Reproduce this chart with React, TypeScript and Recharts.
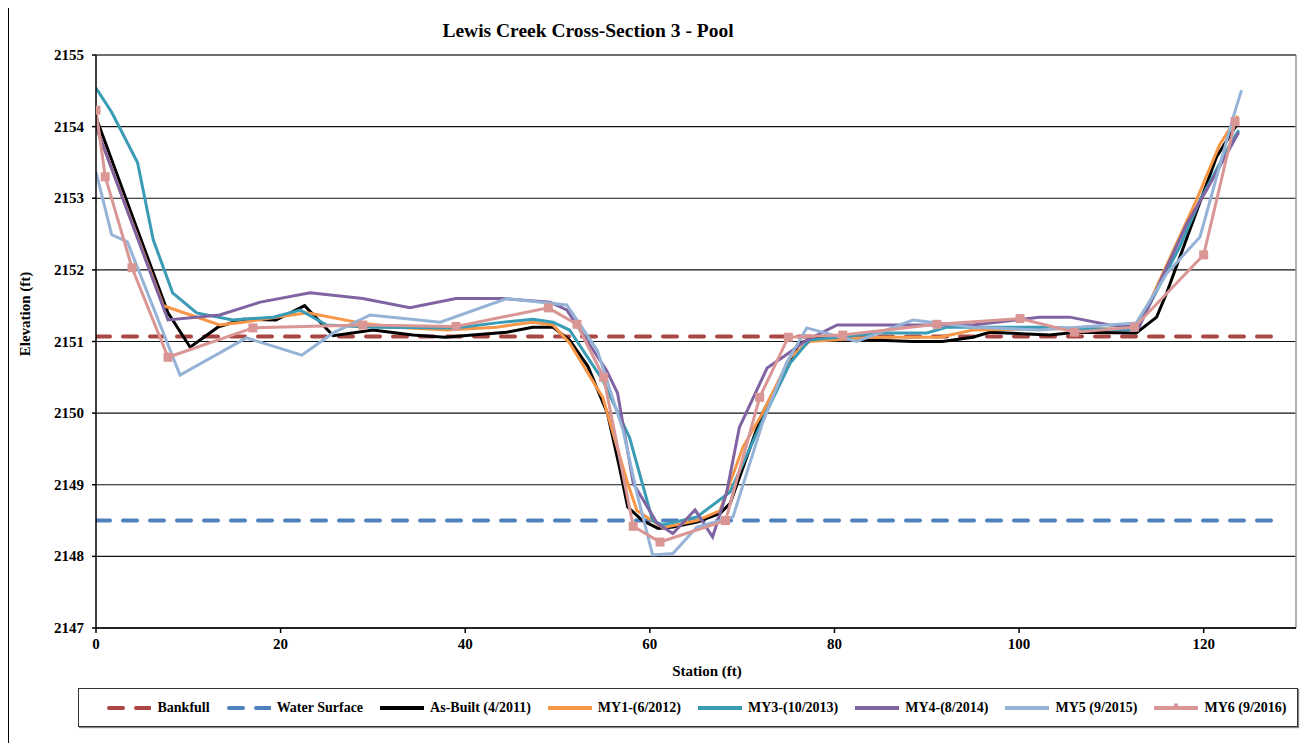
import React from 'react';
import { LineChart, Line, XAxis, YAxis, CartesianGrid, ReferenceLine } from 'recharts';

const xTicks = [0, 20, 40, 60, 80, 100, 120];
const yTicks = [2147, 2148, 2149, 2150, 2151, 2152, 2153, 2154, 2155];

const bankfullSta = [0, 128.2];
const bankfullElev = [2151.07, 2151.07];
const waterSta = [0, 128.4];
const waterElev = [2148.5, 2148.5];

const asBuiltSta = [0, 7.8, 10.2, 13.2, 15.9, 19.5, 22.6, 25.7, 30, 34.3, 37.8, 40.8, 44.5, 47.3, 49.5, 51.3, 53.3, 55.4, 56.7, 57.6, 59.2, 60.9, 62.5, 65.1, 67.6, 68.7, 72.2, 75.2, 76.2, 78.1, 88.5, 91.7, 95, 96.8, 103.3, 106.2, 112.7, 114.9, 116, 121.4, 123.7];
const asBuiltElev = [2154.13, 2151.4, 2150.92, 2151.2, 2151.31, 2151.3, 2151.5, 2151.08, 2151.16, 2151.09, 2151.06, 2151.09, 2151.13, 2151.2, 2151.2, 2151.02, 2150.65, 2150.0, 2149.25, 2148.69, 2148.5, 2148.39, 2148.41, 2148.48, 2148.6, 2148.74, 2150.0, 2150.74, 2150.98, 2151.05, 2151.0, 2151.0, 2151.06, 2151.13, 2151.09, 2151.13, 2151.12, 2151.34, 2151.68, 2153.58, 2154.05];

const my1Sta = [0, 7.3, 13.4, 15.9, 22.9, 28.6, 32.6, 38, 43.4, 47.3, 49.5, 51.3, 54.9, 57.5, 58.6, 61.4, 65.1, 67.6, 70.1, 72.2, 75.2, 77.3, 84.2, 91.4, 95, 103, 112.8, 119.2, 121.7, 123.7];
const my1Elev = [2154.0, 2151.5, 2151.23, 2151.27, 2151.4, 2151.26, 2151.2, 2151.16, 2151.2, 2151.27, 2151.23, 2150.98, 2150.22, 2149.06, 2148.64, 2148.4, 2148.5, 2148.64, 2149.53, 2150.0, 2150.78, 2151.0, 2151.06, 2151.06, 2151.16, 2151.18, 2151.17, 2152.97, 2153.74, 2154.15];

const my3Sta = [0, 1.7, 4.5, 6.2, 8.3, 10.9, 14.8, 19.2, 22.1, 25, 30, 39, 43.4, 47.3, 49.5, 51.3, 54.9, 57.8, 60.3, 61.4, 65.1, 68.7, 72.2, 75.2, 77.3, 84.9, 90, 92.2, 102.2, 112.7, 117.4, 119.6, 123.1, 123.8];
const my3Elev = [2154.54, 2154.2, 2153.5, 2152.42, 2151.68, 2151.4, 2151.3, 2151.34, 2151.44, 2151.23, 2151.2, 2151.19, 2151.26, 2151.31, 2151.27, 2151.16, 2150.46, 2149.66, 2148.5, 2148.44, 2148.55, 2148.9, 2149.9, 2150.7, 2151.02, 2151.12, 2151.12, 2151.2, 2151.2, 2151.16, 2152.32, 2152.97, 2153.81, 2153.95];

const my4Sta = [0, 7.8, 13.4, 17.8, 23.2, 28.9, 34, 39, 44.1, 49.2, 51, 55.3, 56.5, 58.2, 60.8, 62.5, 64.9, 66.8, 68.3, 69.7, 72.7, 74.4, 77, 80.3, 95, 102.2, 105.5, 109.8, 113, 118.2, 120.3, 123.8];
const my4Elev = [2154.0, 2151.3, 2151.37, 2151.55, 2151.68, 2151.6, 2151.47, 2151.6, 2151.6, 2151.55, 2151.44, 2150.6, 2150.28, 2149.02, 2148.46, 2148.32, 2148.65, 2148.27, 2148.88, 2149.8, 2150.63, 2150.78, 2151.02, 2151.23, 2151.23, 2151.34, 2151.34, 2151.23, 2151.2, 2152.65, 2153.11, 2153.92];

const my5Sta = [0, 1.7, 3.4, 9.1, 16.3, 22.3, 25.7, 29.7, 37.3, 44.5, 51, 54.3, 57.1, 58.6, 60.3, 62.5, 65.1, 69, 72.2, 74.8, 77, 82.4, 88.5, 95, 102.2, 112.7, 116, 119.6, 123.1, 124.1];
const my5Elev = [2153.37, 2152.49, 2152.39, 2150.53, 2151.05, 2150.81, 2151.12, 2151.37, 2151.27, 2151.6, 2151.51, 2150.88, 2149.76, 2148.88, 2148.02, 2148.04, 2148.41, 2148.55, 2149.86, 2150.7, 2151.19, 2151.0, 2151.3, 2151.2, 2151.16, 2151.26, 2151.95, 2152.46, 2154.09, 2154.51];

const my6Sta = [0, 1, 3.9, 7.8, 17, 28.9, 39, 49, 52.1, 55, 58.2, 61.1, 68.2, 71.9, 75, 80.9, 91.1, 100.1, 106, 112.5, 120, 123.4];
const my6Elev = [2154.23, 2153.3, 2152.03, 2150.78, 2151.19, 2151.23, 2151.21, 2151.47, 2151.24, 2150.5, 2148.42, 2148.2, 2148.5, 2150.22, 2151.06, 2151.09, 2151.24, 2151.32, 2151.13, 2151.2, 2152.21, 2154.07];

const toPoints = (sta: number[], elev: number[]) => sta.map((x, i) => ({ x, y: elev[i] }));

const series = [
  { name: 'Bankfull', data: toPoints(bankfullSta, bankfullElev), color: '#AA4643', dash: '14 13', width: 4 },
  { name: 'Water Surface', data: toPoints(waterSta, waterElev), color: '#4F81BD', dash: '14 13', width: 4 },
  { name: 'As-Built (4/2011)', data: toPoints(asBuiltSta, asBuiltElev), color: '#000000' },
  { name: 'MY1-(6/2012)', data: toPoints(my1Sta, my1Elev), color: '#F79646' },
  { name: 'MY3-(10/2013)', data: toPoints(my3Sta, my3Elev), color: '#3A9BB5' },
  { name: 'MY4-(8/2014)', data: toPoints(my4Sta, my4Elev), color: '#8064A2' },
  { name: 'MY5 (9/2015)', data: toPoints(my5Sta, my5Elev), color: '#95B3D7' },
  { name: 'MY6 (9/2016)', data: toPoints(my6Sta, my6Elev), color: '#D99694', marker: true },
];

const font = "Liberation Serif, 'Times New Roman', DejaVu Serif, serif";
const textStyle = { fontFamily: font, fontWeight: 700, fontSize: 15 };

const XTick = (props: any) => {
  const { x, y, payload } = props;
  return (
    <text x={x} y={y + 12} textAnchor="middle" fill="#000" style={textStyle}>
      {payload.value}
    </text>
  );
};

const YTick = (props: any) => {
  const { x, y, payload } = props;
  return (
    <text x={x} y={y + 5} textAnchor="end" fill="#000" style={textStyle}>
      {payload.value}
    </text>
  );
};

const SquareDot = (props: any) => {
  const { cx, cy, index } = props;
  if (cx == null || cy == null) return null;
  return <rect key={index} x={cx - 4.5} y={cy - 4.5} width={9} height={9} fill="#D99694" />;
};

const LegendBox = () => (
  <div
    style={{
      position: 'absolute',
      left: 69,
      top: 680,
      width: 1220,
      height: 39,
      border: '1px solid #333',
      boxShadow: '1px 1px 1px #888',
      display: 'flex',
      alignItems: 'center',
      justifyContent: 'center',
      gap: 17,
      paddingLeft: 18,
      boxSizing: 'border-box',
      fontFamily: font,
      fontWeight: 700,
      fontSize: 14,
      background: '#fff',
    }}
  >
    {series.map((s) => (
      <div key={s.name} style={{ display: 'flex', alignItems: 'center' }}>
        <svg width={44} height={10} style={{ marginRight: 6 }}>
          <line
            x1={s.dash ? 2 : 0}
            y1={5}
            x2={44}
            y2={5}
            stroke={s.color}
            strokeWidth={s.width ?? 4}
            strokeDasharray={s.dash}
            strokeLinecap={s.dash ? 'round' : 'butt'}
          />
          {s.marker && <rect x={20} y={0.5} width={4} height={4} fill={s.color} />}
        </svg>
        <span>{s.name}</span>
      </div>
    ))}
  </div>
);

export default function App() {
  return (
    <div
      style={{
        position: 'relative',
        width: 1297,
        height: 740,
        border: '1px solid #000',
        boxSizing: 'border-box',
        marginTop: -1,
        background: '#fff',
        fontFamily: font,
      }}
    >
      <div
        style={{
          position: 'absolute',
          left: 0,
          width: 1158,
          top: 12,
          textAlign: 'center',
          fontFamily: font,
          fontWeight: 700,
          fontSize: 19.5,
        }}
      >
        Lewis Creek Cross-Section 3 - Pool
      </div>
      <div
        style={{
          position: 'absolute',
          left: 16 - 60,
          top: 306 - 10,
          width: 120,
          height: 20,
          lineHeight: '20px',
          textAlign: 'center',
          transform: 'rotate(-90deg)',
          fontFamily: font,
          fontWeight: 700,
          fontSize: 15,
        }}
      >
        Elevation (ft)
      </div>
      <LineChart
        width={1296}
        height={735}
        margin={{ top: 47, right: 8, left: 0, bottom: 65 }}
        style={{ position: 'absolute', left: -1, top: 0 }}
      >
        <CartesianGrid horizontal vertical={false} stroke="#111" strokeWidth={1.2} />
        <XAxis
          type="number"
          dataKey="x"
          domain={[0, 130]}
          ticks={xTicks}
          allowDataOverflow
          height={50}
          tick={<XTick />}
          tickSize={5}
          tickMargin={4}
          stroke="#000"
          strokeWidth={1.5}
          label={{ value: 'Station (ft)', position: 'insideBottom', offset: 2, dx: 11, style: { ...textStyle, fill: '#000' } }}
        />
        <YAxis
          type="number"
          domain={[2147, 2155]}
          ticks={yTicks}
          width={88}
          tick={<YTick />}
          tickSize={4}
          tickMargin={8}
          stroke="#000"
          strokeWidth={1.5}
        />
        <ReferenceLine x={130} stroke="#999" strokeWidth={1.5} />
        <ReferenceLine y={2155} stroke="#666" strokeWidth={1.5} />
        {series.map((s) => (
          <Line
            key={s.name}
            data={s.data}
            dataKey="y"
            name={s.name}
            type="linear"
            stroke={s.color}
            strokeWidth={s.width ?? 3}
            strokeDasharray={s.dash}
            strokeLinecap={s.dash ? 'round' : 'butt'}
            dot={s.marker ? SquareDot : false}
            activeDot={false}
            isAnimationActive={false}
          />
        ))}
      </LineChart>
      <LegendBox />
    </div>
  );
}
